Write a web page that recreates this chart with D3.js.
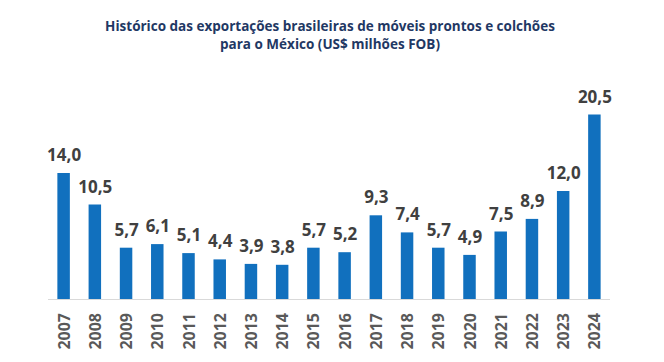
<!DOCTYPE html>
<html>
<head>
<meta charset="utf-8">
<script src="https://cdn.jsdelivr.net/npm/d3@7"></script>
<style>
  body { margin: 0; background: #fff; }
  svg { display: block; font-family: "Open Sans", sans-serif; }
</style>
</head>
<body>
<svg id="chart"></svg>
<script>
const width = 664;
const height = 362;

// data
const years = ["2007", "2008", "2009", "2010", "2011", "2012", "2013", "2014", "2015",
               "2016", "2017", "2018", "2019", "2020", "2021", "2022", "2023", "2024"];
const values = [14.0, 10.5, 5.7, 6.1, 5.1, 4.4, 3.9, 3.8, 5.7,
                5.2, 9.3, 7.4, 5.7, 4.9, 7.5, 8.9, 12.0, 20.5];
const titleLines = [
    "Histórico das exportações brasileiras de móveis prontos e colchões",
    "para o México (US$ milhões FOB)"
];

const data = years.map((y, i) => ({ year: y, value: values[i] }));

const svg = d3.select("#chart")
    .attr("width", width)
    .attr("height", height);

const baseY = 299;
const x = d3.scaleBand()
    .domain(years)
    .range([48, 610])
    .paddingInner(0.6)
    .paddingOuter(0.3);

const y = d3.scaleLinear()
    .domain([0, 22])
    .range([baseY, baseY - 22 * 9]);

// title
svg.append("g")
    .selectAll("text")
    .data(titleLines)
    .enter().append("text")
    .attr("x", 330)
    .attr("y", (d, i) => 31 + i * 18)
    .attr("text-anchor", "middle")
    .attr("fill", "#1f3864")
    .attr("font-size", 13.5)
    .attr("font-weight", "bold")
    .text(d => d);

// bars
svg.append("g")
    .selectAll("rect")
    .data(data)
    .enter().append("rect")
    .attr("x", d => x(d.year))
    .attr("y", d => y(d.value))
    .attr("width", x.bandwidth())
    .attr("height", d => baseY - y(d.value))
    .attr("fill", "#1170be");

// baseline
svg.append("line")
    .attr("x1", 48).attr("x2", 610)
    .attr("y1", baseY + 0.5).attr("y2", baseY + 0.5)
    .attr("stroke", "#d9d9d9")
    .attr("stroke-width", 1);

// value labels
svg.append("g")
    .selectAll("text")
    .data(data)
    .enter().append("text")
    .attr("x", d => x(d.year) + x.bandwidth() / 2 + 0.5)
    .attr("y", d => y(d.value) - 12)
    .attr("text-anchor", "middle")
    .attr("fill", "#404040")
    .attr("font-size", 17)
    .attr("font-weight", "bold")
    .text(d => d3.format(".1f")(d.value).replace(".", ","));

// year labels (rotated)
svg.append("g")
    .selectAll("text")
    .data(data)
    .enter().append("text")
    .attr("transform", d => `translate(${x(d.year) + x.bandwidth() / 2 + 6},313) rotate(-90)`)
    .attr("text-anchor", "end")
    .attr("fill", "#595959")
    .attr("font-size", 16)
    .attr("font-weight", "bold")
    .text(d => d.year);
</script>
</body>
</html>
